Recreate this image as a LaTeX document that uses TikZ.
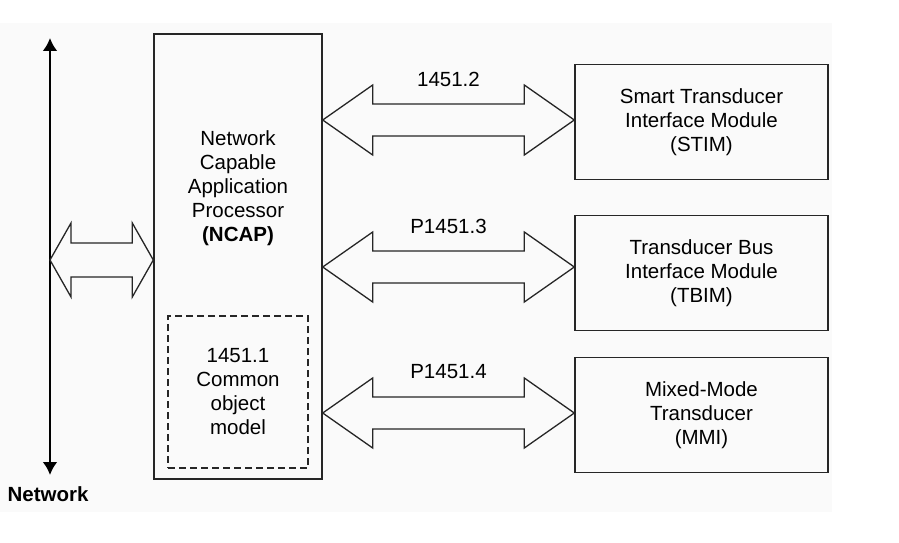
\documentclass[tikz,border=0pt]{standalone}
\usepackage{fontspec}
\setmainfont{Liberation Sans}
\usetikzlibrary{calc,arrows.meta}
\tikzset{
    box/.style={draw=black!85,line width=1.4pt,align=center,inner sep=0pt},
    dashbox/.style={draw=black!85,line width=1.2pt,dash pattern=on 7pt off 4pt,align=center,inner sep=0pt},
    fatline/.style={draw=black!85,line width=1.3pt,line join=miter},
}
%% double block arrow between two tips: tip, tip, head length, head half width, shaft half width
\newcommand{\fatarrow}[5]{%
    \draw[fatline] (#1) -- ($(#1)+(#3,-#4)$) -- ($(#1)+(#3,-#5)$) -- ($(#2)+(-#3,-#5)$)
        -- ($(#2)+(-#3,-#4)$) -- (#2) -- ($(#2)+(-#3,#4)$) -- ($(#2)+(-#3,#5)$)
        -- ($(#1)+(#3,#5)$) -- ($(#1)+(#3,#4)$) -- cycle;}
\begin{document}
\begin{tikzpicture}[x=1pt,y=-1pt,font=\fontsize{20.5}{24}\selectfont]
        \useasboundingbox (0,0) rectangle (899,543);
        \fill[black!2] (0,23) rectangle (832,512);
        %% network bus
        \coordinate (nettop) at (50,38);
        \coordinate (netbot) at (50,475);
        \draw[line width=2.8pt,{Latex[length=13pt,width=15pt]}-{Latex[length=13pt,width=15pt]}] (nettop) -- (netbot);
        \node[font=\fontsize{20.5}{24}\selectfont\bfseries] (netlabel) at (48,494) {Network};
        %% NCAP
        \node[box,minimum width=168,minimum height=445] (ncap) at (238,256.5) {};
        \node[align=center] (ncaptext) at (238,188) {Network\\Capable\\Application\\Processor\\\textbf{(NCAP)}};
        \node[dashbox,minimum width=140,minimum height=152] (com) at (238,392) {1451.1\\Common\\object\\model};
        %% modules
        \foreach \m/\y/\t in {stim/122/{Smart Transducer\\Interface Module\\(STIM)},
                              tbim/273/{Transducer Bus\\Interface Module\\(TBIM)},
                              mmi/415/{Mixed-Mode\\Transducer\\(MMI)}}
            \node[box,minimum width=253,minimum height=115] (\m) at (701.5,\y) {\t};
        %% network to NCAP
        \coordinate (netin) at (nettop |- 0,260);
        \coordinate (ncapin) at (ncap.west |- 0,260);
        \fatarrow{netin}{ncapin}{21}{37}{17}
        %% NCAP to modules
        \foreach \m/\y/\lab in {stim/120/1451.2,tbim/267/P1451.3,mmi/413/P1451.4} {
            \coordinate (a\m) at (ncap.east |- 0,\y);
            \coordinate (b\m) at (\m.west |- 0,\y);
            \fatarrow{a\m}{b\m}{50}{35}{16}
            \node (l\m) at ($(a\m)!0.5!(b\m)+(0,-41)$) {\lab};
        }
    \end{tikzpicture}
\end{document}
